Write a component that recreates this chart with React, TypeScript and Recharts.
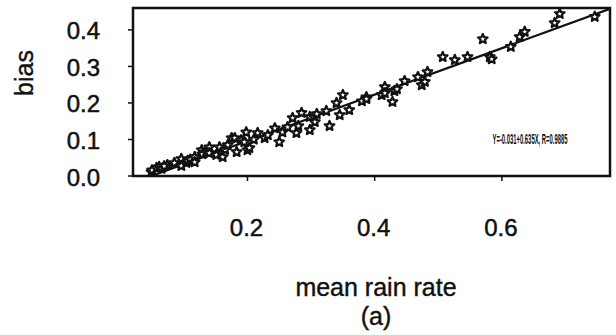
import React from "react";
import {
  ScatterChart,
  Scatter,
  XAxis,
  YAxis,
  ReferenceArea,
  ReferenceLine,
} from "recharts";

// values
const rainRate = [
  0.049, 0.05, 0.057, 0.061, 0.065, 0.074, 0.069, 0.085, 0.096, 0.096, 0.104,
  0.106, 0.11, 0.117, 0.117, 0.128, 0.129, 0.135, 0.14, 0.14, 0.151, 0.156,
  0.161, 0.165, 0.169, 0.175, 0.18, 0.183, 0.19, 0.195, 0.198, 0.2, 0.203,
  0.21, 0.216, 0.227, 0.232, 0.243, 0.25, 0.255, 0.263, 0.271, 0.277, 0.28,
  0.285, 0.298, 0.298, 0.305, 0.306, 0.309, 0.324, 0.329, 0.34, 0.345, 0.35,
  0.36, 0.38, 0.387, 0.387, 0.411, 0.416, 0.416, 0.428, 0.431, 0.435, 0.447,
  0.468, 0.474, 0.479, 0.483, 0.507, 0.526, 0.546, 0.57, 0.581, 0.584, 0.614,
  0.628, 0.636, 0.683, 0.691, 0.746,
];
const bias = [
  0.011, 0.016, 0.022, 0.025, 0.02, 0.03, 0.027, 0.036, 0.047, 0.028, 0.036,
  0.042, 0.045, 0.052, 0.038, 0.071, 0.06, 0.066, 0.079, 0.063, 0.058, 0.079,
  0.052, 0.072, 0.085, 0.104, 0.104, 0.066, 0.098, 0.093, 0.12, 0.071, 0.077,
  0.1, 0.118, 0.104, 0.112, 0.131, 0.093, 0.12, 0.134, 0.159, 0.118, 0.137,
  0.173, 0.126, 0.162, 0.16, 0.148, 0.17, 0.178, 0.137, 0.2, 0.167, 0.222,
  0.181, 0.205, 0.216, 0.211, 0.222, 0.244, 0.227, 0.203, 0.233, 0.238, 0.26,
  0.271, 0.249, 0.258, 0.285, 0.326, 0.318, 0.326, 0.375, 0.326, 0.32, 0.354,
  0.381, 0.395, 0.419, 0.444, 0.436,
];
const xTicks = [0.2, 0.4, 0.6];
const yTicks = [0, 0.1, 0.2, 0.3, 0.4];

// fit printed on the figure
const intercept = -0.031;
const slope = 0.635;
const fitLabel = "Y=-0.031+0.635X, R=0.9885";

const xDomain = [0.02, 0.77];
const yDomain = [0, 0.46];

const points = rainRate.map((x, i) => ({ x, y: bias[i] }));
const x0 = -intercept / slope;
const fitSegment = [
  { x: x0, y: 0 },
  { x: xDomain[1], y: intercept + slope * xDomain[1] },
];

const FONT = "'Liberation Sans', Arial, Helvetica, sans-serif";
const INK = "#111";

function Star(props: any) {
  const { cx, cy } = props;
  if (cx == null || cy == null) return null;
  const pts: string[] = [];
  for (let k = 0; k < 10; k++) {
    const r = k % 2 === 0 ? 5 : 2.3;
    const a = -Math.PI / 2 + (k * Math.PI) / 5;
    pts.push(`${cx + r * Math.cos(a)},${cy + r * Math.sin(a)}`);
  }
  return (
    <polygon
      points={pts.join(" ")}
      fill="#fff"
      stroke={INK}
      strokeWidth={2.2}
      strokeLinejoin="round"
    />
  );
}

function XTick(props: any) {
  const { x, payload } = props;
  return (
    <text
      x={x - 1}
      y={227}
      textAnchor="middle"
      dominantBaseline="central"
      fontFamily={FONT}
      fontSize={24}
      fill={INK}
      stroke={INK}
      strokeWidth={0.5}
    >
      {payload.value.toFixed(1)}
    </text>
  );
}

function YTick(props: any) {
  const { y, payload } = props;
  return (
    <text
      x={100}
      y={y + 1}
      textAnchor="end"
      dominantBaseline="central"
      fontFamily={FONT}
      fontSize={24}
      fill={INK}
      stroke={INK}
      strokeWidth={0.5}
    >
      {payload.value.toFixed(1)}
    </text>
  );
}

export default function App() {
  return (
    <div style={{ position: "absolute", left: 0, top: 0, background: "#fff" }}>
      <ScatterChart
        width={616}
        height={335}
        margin={{ top: 8, right: 6, bottom: 9, left: 0 }}
      >
        <XAxis
          type="number"
          dataKey="x"
          domain={xDomain}
          ticks={xTicks}
          allowDataOverflow
          height={150}
          tickSize={5}
          axisLine={false}
          tickLine={{ stroke: INK, strokeWidth: 1.5 }}
          tick={<XTick />}
        />
        <YAxis
          type="number"
          dataKey="y"
          domain={yDomain}
          ticks={yTicks}
          allowDataOverflow
          width={133}
          tickSize={5}
          axisLine={false}
          tickLine={{ stroke: INK, strokeWidth: 1.5 }}
          tick={<YTick />}
        />
        <ReferenceArea
          x1={xDomain[0]}
          x2={xDomain[1]}
          y1={yDomain[0]}
          y2={yDomain[1]}
          fill="none"
          stroke={INK}
          strokeWidth={2.5}
          ifOverflow="visible"
        />
        <ReferenceLine
          segment={fitSegment}
          stroke={INK}
          strokeWidth={2.2}
          ifOverflow="hidden"
        />
        <Scatter data={points} shape={<Star />} isAnimationActive={false} />
        <text
          transform="translate(530 139) scale(0.42 1)"
          x={0}
          y={0}
          textAnchor="middle"
          dominantBaseline="central"
          fontFamily={FONT}
          fontSize={14}
          fontWeight="bold"
          fill={INK}
        >
          {fitLabel}
        </text>
        <text
          x={24}
          y={73}
          transform="rotate(-90 24 73)"
          textAnchor="middle"
          dominantBaseline="central"
          fontFamily={FONT}
          fontSize={25}
          fill={INK}
          stroke={INK}
          strokeWidth={0.4}
        >
          bias
        </text>
        <text
          x={376}
          y={287}
          textAnchor="middle"
          dominantBaseline="central"
          fontFamily={FONT}
          fontSize={25}
          fill={INK}
          stroke={INK}
          strokeWidth={0.4}
        >
          mean rain rate
        </text>
        <text
          x={376}
          y={316}
          textAnchor="middle"
          dominantBaseline="central"
          fontFamily={FONT}
          fontSize={25}
          fill={INK}
          stroke={INK}
          strokeWidth={0.4}
        >
          (a)
        </text>
      </ScatterChart>
    </div>
  );
}
